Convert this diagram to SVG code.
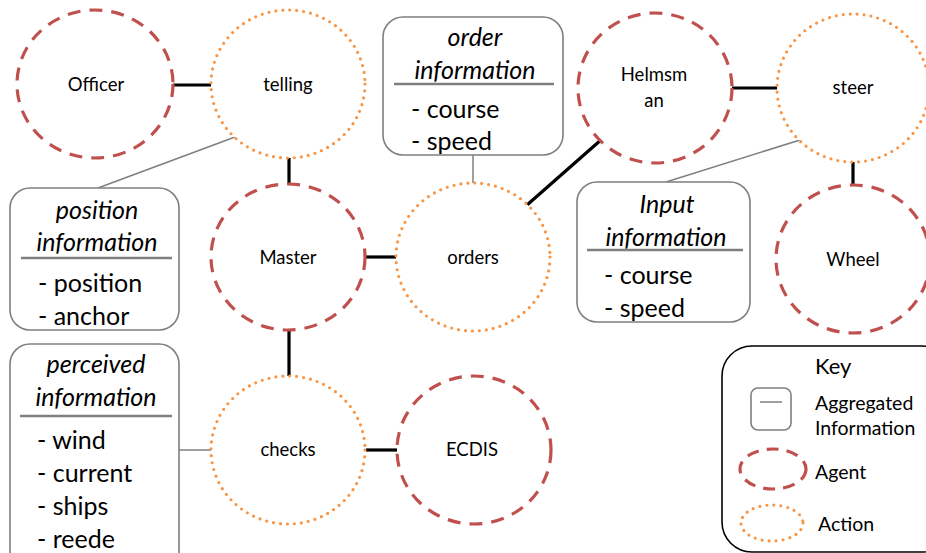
<svg xmlns="http://www.w3.org/2000/svg" width="926" height="553" viewBox="0 0 926 553">
<style>
text{font-family:Lato,"Open Sans","Liberation Sans",sans-serif;fill:#000}
.agent{fill:#fff;stroke:#C0504D;stroke-width:3.2;stroke-dasharray:13 9}
.action{fill:#fff;stroke:#F79646;stroke-width:3.2;stroke-dasharray:0 7;stroke-linecap:round}
.lbl{font-size:18.5px;text-anchor:middle}
.box{fill:#fff;stroke:#7F7F7F;stroke-width:1.6}
.ttl{font-size:25px;font-style:italic;text-anchor:middle}
.item{font-size:25px}
.sep{stroke:#7F7F7F;stroke-width:2.5}
.thin{stroke:#7F7F7F;stroke-width:1.5;fill:none}
.thick{stroke:#000;stroke-width:3.2;fill:none}
.key{font-size:19.5px}
</style>
<g id="connectors">
<line class="thick" x1="173" y1="85" x2="211" y2="85"/>
<line class="thick" x1="289" y1="158" x2="289" y2="185"/>
<line class="thick" x1="289" y1="330" x2="289" y2="377"/>
<line class="thick" x1="366" y1="450" x2="397" y2="450"/>
<line class="thick" x1="366" y1="257" x2="397" y2="257"/>
<line class="thick" x1="527" y1="205" x2="602" y2="139"/>
<line class="thick" x1="732" y1="88" x2="777" y2="88"/>
<line class="thick" x1="853" y1="162" x2="853" y2="186"/>
<line class="thin" x1="473" y1="155" x2="473" y2="183"/>
<line class="thin" x1="666" y1="182" x2="800" y2="140"/>
<line class="thin" x1="98" y1="188" x2="235" y2="137"/>
<line class="thin" x1="179" y1="450" x2="211" y2="450"/>
</g>
<g id="officer"><ellipse class="agent" cx="95" cy="84" rx="78" ry="74"/><text class="lbl" x="96" y="91">Officer</text></g>
<g id="telling"><ellipse class="action" cx="288" cy="84" rx="77" ry="74"/><text class="lbl" x="288" y="91">telling</text></g>
<g id="master"><ellipse class="agent" cx="288" cy="257" rx="77" ry="73"/><text class="lbl" x="288" y="264">Master</text></g>
<g id="checks"><ellipse class="action" cx="288" cy="450" rx="77" ry="74"/><text class="lbl" x="288" y="456">checks</text></g>
<g id="ecdis"><ellipse class="agent" cx="474" cy="450" rx="77" ry="74"/><text class="lbl" x="472" y="456">ECDIS</text></g>
<g id="orders"><ellipse class="action" cx="473" cy="257" rx="77" ry="74"/><text class="lbl" x="473" y="264">orders</text></g>
<g id="helmsman"><ellipse class="agent" cx="655" cy="88" rx="77" ry="75"/><text class="lbl" x="654" y="81">Helmsm</text><text class="lbl" x="654" y="107">an</text></g>
<g id="steer"><ellipse class="action" cx="853" cy="88" rx="76" ry="74"/><text class="lbl" x="853" y="94">steer</text></g>
<g id="wheel"><ellipse class="agent" cx="853" cy="259" rx="77" ry="74"/><text class="lbl" x="853" y="266">Wheel</text></g>
<g id="order-info">
<rect class="box" x="383" y="17" width="180" height="138" rx="20"/>
<text class="ttl" x="475" y="46">order</text>
<text class="ttl" x="475" y="79">information</text>
<line class="sep" x1="394" y1="84" x2="554" y2="84"/>
<text class="item" x="411" y="118">- course</text>
<text class="item" x="411" y="150">- speed</text>
</g>
<g id="input-info">
<rect class="box" x="577" y="182" width="173" height="140" rx="20"/>
<text class="ttl" x="667" y="213">Input</text>
<text class="ttl" x="666" y="246">information</text>
<line class="sep" x1="587" y1="250" x2="743" y2="250"/>
<text class="item" x="604" y="284">- course</text>
<text class="item" x="604" y="317">- speed</text>
</g>
<g id="position-info">
<rect class="box" x="10" y="188" width="169" height="142" rx="20"/>
<text class="ttl" x="97" y="219">position</text>
<text class="ttl" x="97" y="251">information</text>
<line class="sep" x1="21" y1="258" x2="172" y2="258"/>
<text class="item" x="38" y="292">- position</text>
<text class="item" x="38" y="325">- anchor</text>
</g>
<g id="perceived-info">
<rect class="box" x="10" y="344" width="169" height="230" rx="20"/>
<text class="ttl" x="96" y="373">perceived</text>
<text class="ttl" x="96" y="406">information</text>
<line class="sep" x1="20" y1="416" x2="172" y2="416"/>
<text class="item" x="37" y="449">- wind</text>
<text class="item" x="37" y="482">- current</text>
<text class="item" x="37" y="515">- ships</text>
<text class="item" x="37" y="548">- reede</text>
</g>
<g id="key">
<rect x="722" y="346" width="230" height="206" rx="30" fill="#fff" stroke="#000" stroke-width="1.6"/>
<text class="key" x="815" y="374" style="font-size:22px">Key</text>
<rect class="box" x="751" y="388" width="40" height="42" rx="7"/>
<line class="thin" x1="760" y1="402" x2="782" y2="402"/>
<text class="key" x="815" y="410">Aggregated</text>
<text class="key" x="815" y="435">Information</text>
<ellipse class="agent" cx="773" cy="469" rx="33" ry="20" style="stroke-dasharray:12 8"/>
<text class="key" x="815" y="479">Agent</text>
<ellipse class="action" cx="772" cy="523" rx="31" ry="18" style="stroke-dasharray:0 7"/>
<text class="key" x="818" y="531">Action</text>
</g>
</svg>
